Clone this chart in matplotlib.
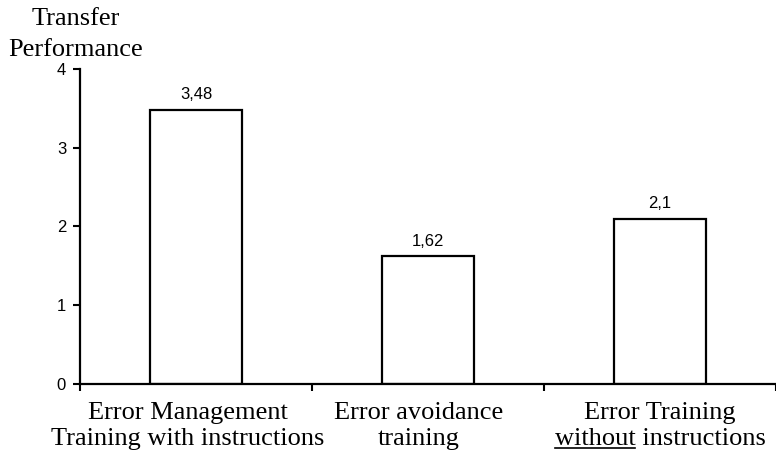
import matplotlib
matplotlib.use("Agg")
import matplotlib.pyplot as plt
from matplotlib.lines import Line2D
from matplotlib.transforms import ScaledTranslation

categories = ["Error Management\nTraining with instructions",
              "Error avoidance\ntraining",
              "Error Training\nwithout instructions"]
values = [3.48, 1.62, 2.1]
value_labels = ["3,48", "1,62", "2,1"]
y_ticks = [0, 1, 2, 3, 4]

SERIF = "Liberation Serif"
SANS = "Liberation Sans"
CAT_FS = 19

fig = plt.figure(figsize=(7.76, 4.59), dpi=100)
ax = fig.add_axes([0.1031, 0.1634, 0.897, 0.6863])

x = list(range(len(values)))
ax.bar(x, values, width=0.4, color="white", edgecolor="black", linewidth=1.6)
for xi, v, lab in zip(x, values, value_labels):
    ax.text(xi, v + 0.1, lab, ha="center", va="bottom", fontsize=12, family=SANS)

ax.set_xlim(-0.5, 2.49)
ax.set_ylim(0, 4)
ax.set_yticks(y_ticks)
ax.set_yticklabels([str(t) for t in y_ticks], fontsize=12, family=SANS)

# boundary ticks (major) and category labels (minor, no tick mark)
ax.set_xticks([-0.5, 0.5, 1.5, 2.5])
ax.set_xticklabels([])
ax.set_xticks(x, minor=True)
ax.set_xticklabels(categories, minor=True, fontsize=CAT_FS, family=SERIF,
                   linespacing=1.25)
ax.tick_params(axis="x", which="minor", length=0, pad=13)
ax.tick_params(axis="x", which="major", length=5, width=1.5, direction="out")
ax.tick_params(axis="y", length=5, width=1.5, direction="out", pad=5)

# the original labels sit a little left of the bar centres
for lab, dx in zip(ax.get_xticklabels(minor=True), [-8, -9, 0]):
    lab.set_transform(lab.get_transform() + ScaledTranslation(dx / 100, 0, fig.dpi_scale_trans))

for side in ("top", "right"):
    ax.spines[side].set_visible(False)
for side in ("left", "bottom"):
    ax.spines[side].set_linewidth(1.6)

fig.text(76 / 776, 1 - 8 / 459, "Transfer\nPerformance", ha="center", va="top",
         fontsize=CAT_FS, family=SERIF, linespacing=1.55)

# underline the word "without" in the third label
fig.canvas.draw()
renderer = fig.canvas.get_renderer()
lab3 = ax.get_xticklabels(minor=True)[2]
bb = lab3.get_window_extent(renderer)
line2 = categories[2].split("\n")[1]
tmp_full = fig.text(0, 0, line2, fontsize=CAT_FS, family=SERIF)
tmp_word = fig.text(0, 0, "without", fontsize=CAT_FS, family=SERIF)
w_full = tmp_full.get_window_extent(renderer).width
w_word = tmp_word.get_window_extent(renderer).width
tmp_full.remove()
tmp_word.remove()
cx = (bb.x0 + bb.x1) / 2
left = cx - w_full / 2
y_ul = bb.y0 + 2
fig.add_artist(Line2D([left / fig.bbox.width, (left + w_word) / fig.bbox.width],
                      [y_ul / fig.bbox.height, y_ul / fig.bbox.height],
                      transform=fig.transFigure, color="black", linewidth=1.2))

fig.savefig("out.png", dpi=100)
